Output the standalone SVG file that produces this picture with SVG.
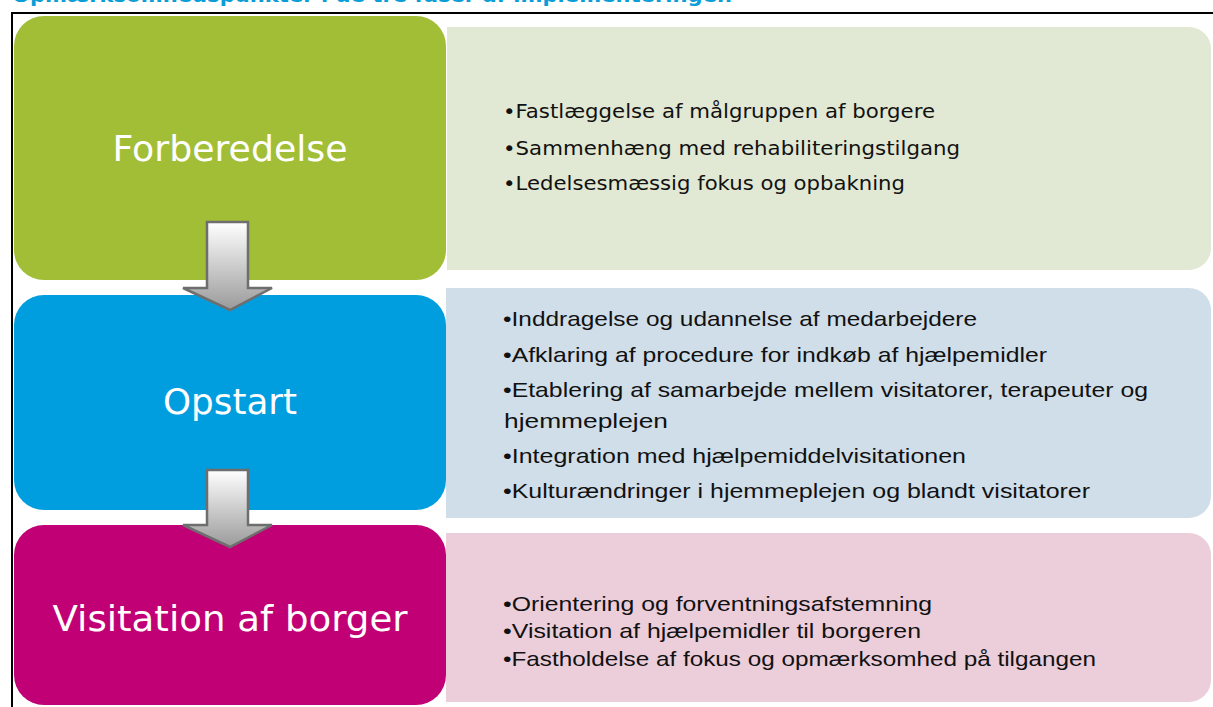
<svg xmlns="http://www.w3.org/2000/svg" width="1213" height="707" viewBox="0 0 1213 707">
<style>
.head{font-family:"DejaVu Sans","Verdana",sans-serif;font-size:36px;fill:#ffffff;text-anchor:middle}
.p1{font-family:"DejaVu Sans","Verdana",sans-serif;font-size:19px;fill:#111111}
.p2{font-family:"Liberation Sans",Arial,sans-serif;font-size:21px;fill:#111111}
.title{font-family:"DejaVu Sans",sans-serif;font-weight:bold;font-size:19px;fill:#0A9ED9}
.arrow{fill:url(#ag);stroke:#6E6E6E;stroke-width:2.5;stroke-linejoin:miter}
</style>
<defs>
<linearGradient id="ag" x1="0" y1="0" x2="0" y2="1">
<stop offset="0" stop-color="#FFFFFF"/>
<stop offset="1" stop-color="#9A9A9A"/>
</linearGradient>
</defs>
<rect width="1213" height="707" fill="#ffffff"/>
<text class="title" x="12" y="2" textLength="720" lengthAdjust="spacingAndGlyphs">Opmærksomhedspunkter i de tre faser af implementeringen</text>
<g id="frame">
<rect x="11" y="12" width="1202" height="2" fill="#000"/>
<rect x="11" y="12" width="2" height="695" fill="#000"/>
</g>
<g id="panel-forberedelse">
<path d="M447,27 H1189 A22,22 0 0 1 1211,49 V248 A22,22 0 0 1 1189,270 H447 Z" fill="#E1E8D3"/>
<text class="p1" x="503" y="118" textLength="432" lengthAdjust="spacingAndGlyphs">•Fastlæggelse af målgruppen af borgere</text>
<text class="p1" x="503" y="155" textLength="457" lengthAdjust="spacingAndGlyphs">•Sammenhæng med rehabiliteringstilgang</text>
<text class="p1" x="503" y="190" textLength="402" lengthAdjust="spacingAndGlyphs">•Ledelsesmæssig fokus og opbakning</text>
</g>
<g id="panel-opstart">
<path d="M446,288 H1189 A22,22 0 0 1 1211,310 V496 A22,22 0 0 1 1189,518 H446 Z" fill="#D0DEE9"/>
<text class="p2" x="503" y="326" textLength="474" lengthAdjust="spacingAndGlyphs">•Inddragelse og udannelse af medarbejdere</text>
<text class="p2" x="503" y="362" textLength="544" lengthAdjust="spacingAndGlyphs">•Afklaring af procedure for indkøb af hjælpemidler</text>
<text class="p2" x="503" y="397" textLength="645" lengthAdjust="spacingAndGlyphs">•Etablering af samarbejde mellem visitatorer, terapeuter og</text>
<text class="p2" x="504" y="428" textLength="164" lengthAdjust="spacingAndGlyphs">hjemmeplejen</text>
<text class="p2" x="503" y="463" textLength="463" lengthAdjust="spacingAndGlyphs">•Integration med hjælpemiddelvisitationen</text>
<text class="p2" x="503" y="498" textLength="587" lengthAdjust="spacingAndGlyphs">•Kulturændringer i hjemmeplejen og blandt visitatorer</text>
</g>
<g id="panel-visitation">
<path d="M446,533 H1189 A22,22 0 0 1 1211,555 V680 A22,22 0 0 1 1189,702 H446 Z" fill="#ECCDDA"/>
<text class="p2" x="503" y="611" textLength="429" lengthAdjust="spacingAndGlyphs">•Orientering og forventningsafstemning</text>
<text class="p2" x="503" y="638" textLength="418" lengthAdjust="spacingAndGlyphs">•Visitation af hjælpemidler til borgeren</text>
<text class="p2" x="503" y="666" textLength="593" lengthAdjust="spacingAndGlyphs">•Fastholdelse af fokus og opmærksomhed på tilgangen</text>
</g>
<g id="node-forberedelse">
<rect x="14" y="16" width="432" height="264" rx="30" fill="#A2BE37"/>
<text class="head" x="230" y="161" textLength="235" lengthAdjust="spacingAndGlyphs">Forberedelse</text>
</g>
<g id="node-opstart">
<rect x="14" y="295" width="432" height="215" rx="30" fill="#009EDF"/>
<text class="head" x="230" y="414" textLength="134" lengthAdjust="spacingAndGlyphs">Opstart</text>
</g>
<g id="node-visitation">
<rect x="14" y="525" width="432" height="180" rx="30" fill="#C20075"/>
<text class="head" x="230" y="631" textLength="355" lengthAdjust="spacingAndGlyphs">Visitation af borger</text>
</g>
<g id="connectors">
<path class="arrow" d="M207,222 H248 V288 H272 L230,310 L183,288 H207 Z"/>
<path class="arrow" d="M207,470 H248 V525 H272 L230,547 L183,525 H207 Z"/>
</g>
</svg>
